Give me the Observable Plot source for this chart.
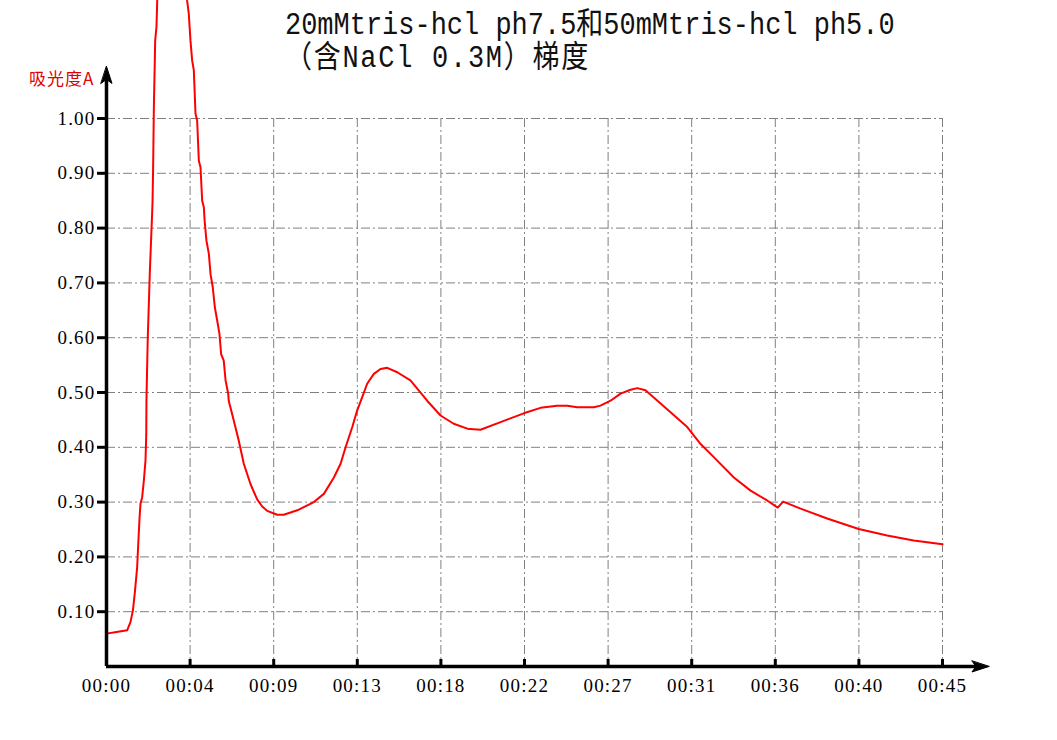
<!DOCTYPE html>
<html>
<head>
<meta charset="utf-8">
<script src="https://cdn.jsdelivr.net/npm/d3@7"></script>
<script src="https://cdn.jsdelivr.net/npm/@observablehq/plot@0.6"></script>
<style>
  body { margin: 0; background: #fff; }
  #wrap { position: relative; width: 1057px; height: 740px; overflow: hidden; background: #fff; }
  #title { position: absolute; left: 285px; top: 9px; font-family: "Liberation Mono", "Noto Sans CJK SC", monospace;
           font-size: 31px; line-height: 33px; color: #111; transform: scaleX(0.87); transform-origin: 0 0; white-space: pre; }
  #title .l2 { letter-spacing: 2px; }
  #ylab { position: absolute; left: 29px; top: 65px; font-family: "Noto Sans CJK SC", sans-serif; font-size: 17px; letter-spacing: 1px; color: #e00000; }
</style>
</head>
<body>
<div id="wrap">
  <div id="chart"></div>
  <div id="title">20mMtris-hcl ph7.5和50mMtris-hcl ph5.0
<span class="l2">（含NaCl 0.3M）梯度</span></div>
  <div id="ylab">吸光度A</div>
</div>
<script>
// elution time (min) and absorbance A
const timeMin = [0, 0.54, 1.11, 1.29, 1.42, 1.52, 1.65, 1.71, 1.78, 1.83, 1.92, 2.01, 2.10, 2.14, 2.15, 2.22, 2.33, 2.42, 2.46, 2.48, 2.51, 2.55, 2.60, 2.62, 2.69, 2.73, 2.91, 3.18, 3.50, 3.88, 4.14, 4.34, 4.43, 4.52, 4.61, 4.70, 4.79, 4.88, 4.97, 5.06, 5.15, 5.24, 5.28, 5.38, 5.51, 5.60, 5.72, 5.83, 5.96, 6.08, 6.17, 6.31, 6.41, 6.55, 6.58, 6.85, 7.12, 7.39, 7.75, 8.11, 8.38, 8.65, 9.19, 9.54, 10.27, 11.16, 11.70, 12.24, 12.60, 12.87, 13.23, 13.49, 13.76, 14.03, 14.39, 14.75, 15.11, 15.65, 16.36, 17.26, 17.98, 18.69, 19.42, 20.13, 21.21, 22.46, 23.36, 24.26, 24.80, 25.34, 26.23, 26.59, 27.13, 27.67, 28.21, 28.57, 29.01, 29.46, 30.36, 31.26, 31.98, 32.69, 33.77, 34.67, 35.56, 36.13, 36.42, 37.36, 38.79, 40.49, 42.02, 43.45, 45.00];
const absorbance = [0.060, 0.063, 0.066, 0.081, 0.102, 0.133, 0.181, 0.224, 0.272, 0.297, 0.309, 0.339, 0.376, 0.424, 0.485, 0.598, 0.717, 0.796, 0.830, 0.850, 0.911, 1.021, 1.106, 1.142, 1.167, 1.215, 1.33, 1.45, 1.52, 1.45, 1.33, 1.215, 1.191, 1.142, 1.106, 1.088, 1.009, 0.996, 0.923, 0.911, 0.850, 0.838, 0.814, 0.777, 0.753, 0.716, 0.692, 0.656, 0.631, 0.607, 0.570, 0.558, 0.522, 0.498, 0.485, 0.449, 0.412, 0.370, 0.333, 0.305, 0.292, 0.284, 0.277, 0.277, 0.285, 0.300, 0.315, 0.345, 0.370, 0.400, 0.437, 0.467, 0.491, 0.516, 0.534, 0.543, 0.545, 0.537, 0.522, 0.485, 0.458, 0.443, 0.434, 0.432, 0.446, 0.462, 0.472, 0.476, 0.476, 0.473, 0.473, 0.476, 0.485, 0.498, 0.505, 0.508, 0.504, 0.491, 0.464, 0.437, 0.406, 0.382, 0.345, 0.321, 0.303, 0.290, 0.301, 0.288, 0.270, 0.251, 0.239, 0.230, 0.223];

const xTicks = [0, 4.5, 9, 13.5, 18, 22.5, 27, 31.5, 36, 40.5, 45];
const xTickLabels = ["00:00", "00:04", "00:09", "00:13", "00:18", "00:22", "00:27", "00:31", "00:36", "00:40", "00:45"];
const yTicks = [0.1, 0.2, 0.3, 0.4, 0.5, 0.6, 0.7, 0.8, 0.9, 1.0];
const yTickLabels = ["0.10", "0.20", "0.30", "0.40", "0.50", "0.60", "0.70", "0.80", "0.90", "1.00"];

// axis arrow extents (beyond the plotted domain)
const xAxisEnd = 47.5;
const yAxisEnd = 1.095;

const data = timeMin.map((t, i) => ({t, a: absorbance[i]}));

const gridStyle = {stroke: "#808080", strokeOpacity: 1, strokeWidth: 1, strokeDasharray: "9,3,2,3"};
const arrowHead = {
  draw(ctx, l) {
    ctx.moveTo(0, -l);
    ctx.lineTo(5.5, 0);
    ctx.lineTo(0, -4);
    ctx.lineTo(-5.5, 0);
    ctx.closePath();
  }
};

const chart = Plot.plot({
  width: 1057,
  height: 740,
  marginTop: 118,
  marginLeft: 106,
  marginRight: 115,
  marginBottom: 74,
  x: {domain: [0, 45]},
  y: {domain: [0, 1]},
  style: {fontFamily: "'Liberation Serif', serif", fontSize: "19px", letterSpacing: "1.2px", color: "#000", background: "transparent", overflow: "hidden"},
  marks: [
    Plot.gridX(xTicks.slice(1), gridStyle),
    Plot.gridY(yTicks, gridStyle),
    Plot.line(data, {x: "t", y: "a", stroke: "#ff0000", strokeWidth: 2}),
    Plot.axisX(xTicks, {tickSize: 0, tickPadding: 12, fontSize: 19, label: null,
      tickFormat: d => xTickLabels[xTicks.indexOf(d)]}),
    Plot.axisY(yTicks, {tickSize: 0, tickPadding: 11, fontSize: 19, label: null,
      tickFormat: d => yTickLabels[yTicks.indexOf(d)]}),
    Plot.ruleX(xTicks.slice(1), {x: d => d, y1: () => 0, y2: () => 0, insetTop: -7, stroke: "#000", strokeWidth: 3}),
    Plot.ruleY(yTicks, {y: d => d, x1: () => 0, x2: () => 0, insetLeft: -9, stroke: "#000", strokeWidth: 3}),
    Plot.ruleY([0], {x1: () => 0, x2: () => xAxisEnd - 0.3, stroke: "#000", strokeWidth: 3.5}),
    Plot.ruleX([0], {y1: () => 0, y2: () => yAxisEnd - 0.02, stroke: "#000", strokeWidth: 3.5}),
    Plot.vector([0], {x: () => xAxisEnd, y: () => 0, rotate: 90, length: 17, anchor: "end", shape: arrowHead, fill: "#000", stroke: "#000", strokeWidth: 1}),
    Plot.vector([0], {x: () => 0, y: () => yAxisEnd, rotate: 0, length: 17, anchor: "end", shape: arrowHead, fill: "#000", stroke: "#000", strokeWidth: 1})
  ]
});
document.getElementById("chart").appendChild(chart);
</script>
</body>
</html>
